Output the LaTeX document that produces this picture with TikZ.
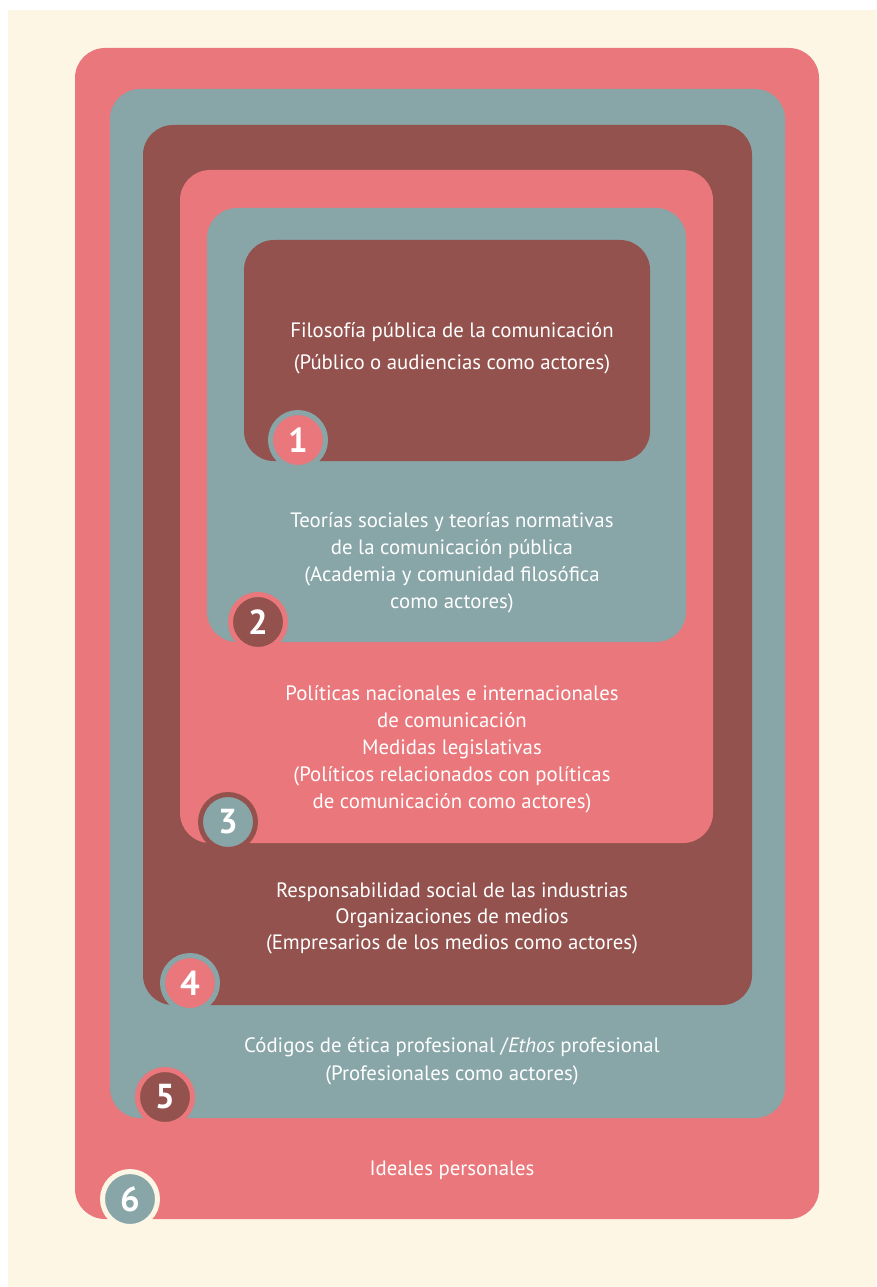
\documentclass[tikz,border=0pt]{standalone}
\usepackage{fontspec}
\setmainfont{PT Sans}
\definecolor{cpink}{HTML}{EA777B}
\definecolor{cteal}{HTML}{88A5A8}
\definecolor{cbrown}{HTML}{93524D}
\definecolor{ccream}{HTML}{FDF6E4}
\begin{document}
\begin{tikzpicture}[x=0.75pt,y=-0.75pt,
  layer/.style={rounded corners=22.5pt},
  txt/.style={text=white,align=center,inner sep=0pt},
  num/.style={circle,minimum size=41.25pt,inner sep=0pt,line width=3.75pt,text=white,font=\fontsize{26}{26}\selectfont\bfseries}]
\useasboundingbox (0,0) rectangle (876,1287);
\fill[white] (0,0) rectangle (876,1287);
\fill[ccream] (8,10) rectangle (876,1287);
\fill[cpink,layer] (75,48) rectangle (819,1219);
\fill[cteal,layer] (110,89) rectangle (785,1118);
\fill[cbrown,layer] (143,125) rectangle (752,1005);
\fill[cpink,layer] (180,170) rectangle (713,843);
\fill[cteal,layer] (207,208) rectangle (686,642);
\fill[cbrown,layer] (244,240) rectangle (650,461);
\node[txt,font=\fontsize{15.6}{24}\selectfont] (t1) at (452,348) {Filosofía pública de la comunicación\\(Público o audiencias como actores)};
\node[txt,font=\fontsize{15.6}{20.25}\selectfont] (t2) at (452,563) {Teorías sociales y teorías normativas\\de la comunicación pública\\(Academia y comunidad filosófica\\como actores)};
\node[txt,font=\fontsize{15.6}{20.25}\selectfont] (t3) at (452,749) {Políticas nacionales e internacionales\\de comunicación\\Medidas legislativas\\(Políticos relacionados con políticas\\de comunicación como actores)};
\node[txt,font=\fontsize{15.6}{19.5}\selectfont] (t4) at (452,918) {Responsabilidad social de las industrias\\Organizaciones de medios\\(Empresarios de los medios como actores)};
\node[txt,font=\fontsize{15.6}{21}\selectfont] (t5) at (452,1061) {Códigos de ética profesional /\textit{Ethos} profesional\\(Profesionales como actores)};
\node[txt,font=\fontsize{15.6}{21}\selectfont] (t6) at (452,1170) {Ideales personales};
\node[num,fill=cpink,draw=cteal] (n1) at (298,440) {1};
\node[num,fill=cbrown,draw=cpink] (n2) at (258,622) {2};
\node[num,fill=cteal,draw=cbrown] (n3) at (228,822) {3};
\node[num,fill=cpink,draw=cteal] (n4) at (190,983) {4};
\node[num,fill=cbrown,draw=cpink] (n5) at (165,1097) {5};
\node[num,fill=cteal,draw=ccream] (n6) at (130,1199) {6};
\end{tikzpicture}
\end{document}
